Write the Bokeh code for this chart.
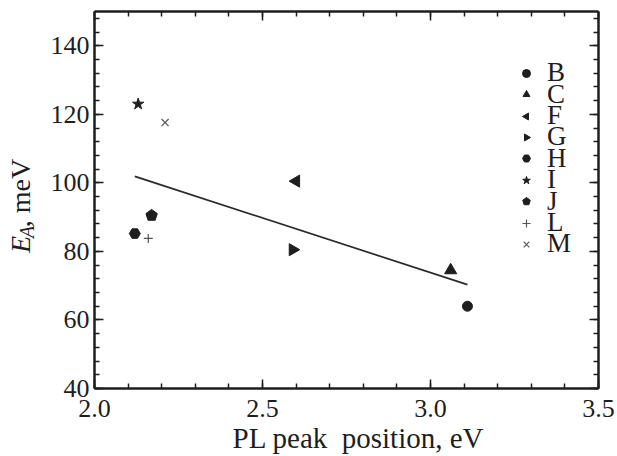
import math
from bokeh.plotting import figure
from bokeh.layouts import row
from bokeh.models import (Range1d, LinearAxis, SingleIntervalTicker, PrintfTickFormatter,
                          Legend, LegendItem, Title)
from bokeh.core.properties import value
from bokeh.embed import file_html
from bokeh.resources import INLINE

# ---- data ----
samples = ["B", "C", "F", "G", "H", "I", "J", "L", "M"]
pl_peak = [3.11, 3.06, 2.60, 2.59, 2.12, 2.13, 2.17, 2.16, 2.21]
ea_mev = [64.0, 74.5, 100.5, 80.5, 85.2, 123.0, 90.5, 83.8, 117.6]
fit_x = [2.12, 3.11]
fit_y = [101.9, 70.3]
x_ticks_interval = 0.5
y_ticks_interval = 20
x_title = "PL peak\u00a0 position, eV"
y_title_parts = ["E", "A", ", meV"]

FONT = "Liberation Serif"
INK = "#1e1e1e"
GRAY = "#555555"

LABEL_W = 40
W, H = 617, 456

# ---- narrow panel holding the rotated y-axis title ----
lf = figure(width=LABEL_W, height=H, output_backend="svg", toolbar_location=None,
            x_range=Range1d(0, LABEL_W), y_range=Range1d(0, H), title=None,
            min_border=0, x_axis_location=None, y_axis_location=None)
lf.grid.visible = False
lf.outline_line_color = None
base_x = 20
y0 = 164
common = dict(angle=math.pi / 2, text_font=value(FONT), text_color=INK, text_alpha=1.0,
              text_align="left", text_baseline="alphabetic")
lf.text(x=[base_x], y=[y0], text=[y_title_parts[0]], text_font_size="28px",
        text_font_style="italic", **common)
lf.text(x=[base_x + 6], y=[y0 + 18], text=[y_title_parts[1]], text_font_size="20px",
        text_font_style="italic", **common)
lf.text(x=[base_x], y=[y0 + 31], text=[y_title_parts[2]], text_font_size="28px", **common)

# ---- main plot ----
p = figure(width=W - LABEL_W, height=H, output_backend="svg", toolbar_location=None,
           x_range=Range1d(2.0, 3.5), y_range=Range1d(40, 150),
           min_border_left=94 - LABEL_W, min_border_right=19, min_border_top=11,
           min_border_bottom=68, x_axis_location=None, y_axis_location=None)
p.grid.visible = False
p.outline_line_color = None

def style_axis(ax, labels=True):
    ax.axis_line_width = 2.5
    ax.axis_line_color = INK
    ax.major_tick_line_color = INK
    ax.minor_tick_line_color = INK
    ax.major_tick_line_width = 1.5
    ax.minor_tick_line_width = 1.5
    ax.major_tick_in = 9
    ax.major_tick_out = 0
    ax.minor_tick_in = 5
    ax.minor_tick_out = 0
    if labels:
        ax.major_label_text_font = FONT
        ax.major_label_text_font_size = "26px"
        ax.major_label_text_color = INK
    else:
        ax.major_label_text_font_size = "1px"
        ax.major_label_text_alpha = 0
        ax.major_label_standoff = 0

xt = SingleIntervalTicker(interval=x_ticks_interval, num_minor_ticks=5)
yt = SingleIntervalTicker(interval=y_ticks_interval, num_minor_ticks=5)

xb = LinearAxis(ticker=xt, formatter=PrintfTickFormatter(format="%.1f"))
style_axis(xb)
xb.major_label_standoff = 11
p.add_layout(xb, "below")
xa = LinearAxis(ticker=xt)
style_axis(xa, labels=False)
p.add_layout(xa, "above")
yl = LinearAxis(ticker=yt)
style_axis(yl)
yl.major_label_standoff = 5
p.add_layout(yl, "left")
yr = LinearAxis(ticker=yt)
style_axis(yr, labels=False)
p.add_layout(yr, "right")

# regression line
p.line(fit_x, fit_y, line_color="#2a2a2a", line_width=1.7)

# markers
renderers = []
for name, xv, yv in zip(samples, pl_peak, ea_mev):
    if name == "B":
        r = p.scatter([xv], [yv], marker="circle", size=10, color=INK)
    elif name == "C":
        r = p.ngon([xv], [yv], radius=7, radius_units="screen", n=3, angle=0,
                   fill_color=INK, line_color=INK)
    elif name == "F":
        r = p.ngon([xv], [yv], radius=7, radius_units="screen", n=3, angle=math.pi / 2,
                   fill_color=INK, line_color=INK)
    elif name == "G":
        r = p.ngon([xv], [yv], radius=7, radius_units="screen", n=3, angle=-math.pi / 2,
                   fill_color=INK, line_color=INK)
    elif name == "H":
        r = p.scatter([xv], [yv], marker="hex", size=11, color=INK)
    elif name == "I":
        r = p.scatter([xv], [yv], marker="star", size=12, color=INK)
    elif name == "J":
        r = p.ngon([xv], [yv], radius=6, radius_units="screen", n=5,
                   angle=0, fill_color=INK, line_color=INK)
    elif name == "L":
        r = p.scatter([xv], [yv], marker="cross", size=9, line_color=GRAY, line_width=1.2)
    else:
        r = p.scatter([xv], [yv], marker="x", size=10, line_color=GRAY, line_width=1.2)
    renderers.append(r)

# legend: one single-item legend per row so the rows can be packed tightly
ROW0, PITCH, ROW_H = 72.7, 21.4, 31
for i, (n, r) in enumerate(zip(samples, renderers)):
    yc = ROW0 + PITCH * i
    lg = Legend(items=[LegendItem(label=n, renderers=[r])],
                location=(422, 388 - yc - ROW_H / 2), padding=0, margin=0, spacing=0,
                glyph_width=20, glyph_height=20, label_height=20, label_standoff=11,
                label_text_font=FONT, label_text_font_size="27px", label_text_color=INK,
                border_line_color=None, background_fill_alpha=0)
    p.add_layout(lg)

# x axis title
p.add_layout(Title(text=x_title, align="left", offset=138, standoff=0,
                   text_font=FONT, text_font_size="29px", text_font_style="normal",
                   text_color=INK), "below")

open("out.html", "w").write(file_html(row(lf, p), INLINE))
